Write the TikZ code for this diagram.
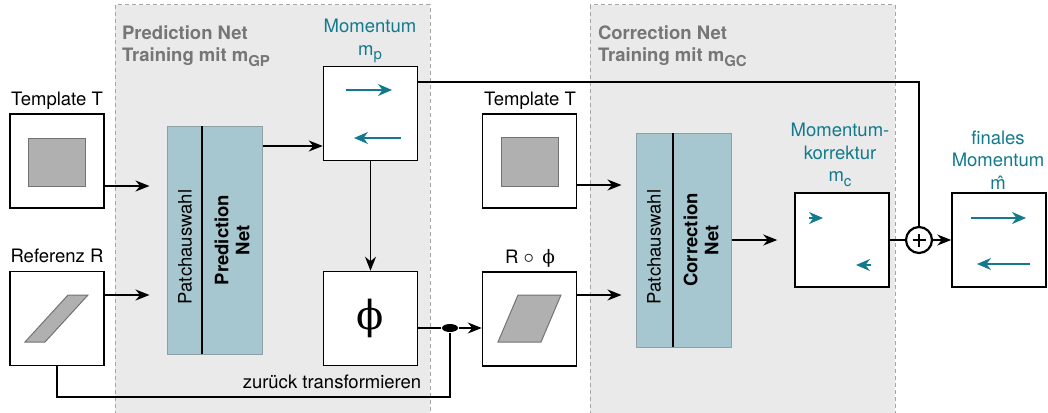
\documentclass[tikz,border=0pt]{standalone}
\usepackage{fontspec}
\setmainfont{TeX Gyre Heros}
\newfontfamily\phifont{DejaVu Serif}
\usetikzlibrary{arrows.meta,shapes.geometric}

\definecolor{petrol}{RGB}{18,122,140}
\definecolor{netblue}{RGB}{166,199,207}
\definecolor{netedge}{RGB}{140,160,166}
\definecolor{areagray}{RGB}{234,234,234}
\definecolor{areaedge}{RGB}{165,165,165}
\definecolor{titlegray}{RGB}{118,118,118}
\definecolor{patchgray}{RGB}{176,176,176}

% tiefgestellter Index wie m_GP
\newcommand{\idx}[1]{\raisebox{-0.45ex}{\fontsize{15}{15}\selectfont #1}}

\begin{document}
\begin{tikzpicture}[x=1pt,y=-1pt,
    font=\fontsize{18.5}{22.5}\selectfont,
    >={Stealth[length=14pt,width=11pt,inset=4.5pt]},
    line width=1.4pt,
    area/.style={draw=areaedge,fill=areagray,line width=1pt,dash pattern=on 4pt off 3pt},
    imgbox/.style={draw,fill=white,line width=1.5pt,minimum width=94pt,minimum height=94pt,inner sep=0pt},
    netbox/.style={draw=netedge,fill=netblue,line width=1pt,minimum width=95pt,inner sep=0pt},
    patch/.style={draw=black!55,fill=patchgray,line width=1pt},
    moarrow/.style={draw=petrol,line width=1.7pt,-{Stealth[length=14pt,width=12pt,inset=4.5pt]}},
    areatitle/.style={text=titlegray,font=\fontsize{18.5}{22.5}\selectfont\bfseries,align=left,anchor=west},
    molabel/.style={text=petrol,align=center},
    split/.style={ellipse,fill,minimum width=16pt,minimum height=8pt,inner sep=0pt}]
\useasboundingbox (0,0) rectangle (1048,412);

% Trainingsbereiche
\draw[area] (115,5) rectangle (430,418);
\draw[area] (590,5) rectangle (895,418);
\node[areatitle] at (118,46) {Prediction Net\\Training mit m\idx{GP}};
\node[areatitle] at (594,46) {Correction Net\\Training mit m\idx{GC}};

% Eingaben
\node[imgbox] (tmplT) at (57,161) {};
\node[imgbox] (refR) at (57,318.5) {};
\node at (57,101) {Template T};
\node at (57,256) {Referenz R};
\draw[patch] (28,138) rectangle (85,186);
\draw[patch] (25,342)--(45,342)--(88,295)--(68,295)--cycle;

% Prediction Net
\node[netbox,minimum height=228pt] (prednet) at (214.5,240) {};
\draw (202,126)--(202,354);
\node[rotate=90] at (185,247) {Patchauswahl};
\node[rotate=90,align=center,font=\fontsize{18.5}{21}\selectfont\bfseries] at (232,240) {Prediction\\Net};

% Momentum m_p
\node[imgbox] (mp) at (370.5,113.5) {};
\node[molabel] at (370,41) {Momentum\\m\idx{p}};
\draw[moarrow] (346,90)--(392,90);
\draw[moarrow] (401,138)--(354,138);

% Transformation phi
\node[imgbox] (phi) at (370.5,318.5) {\phifont\fontsize{40}{40}\selectfont ϕ};
\node at (332,382) {zurück transformieren};
\node[split] (dot) at (450,328) {};

% korrigierte Eingaben
\node[imgbox] (tmplT2) at (529.5,161) {};
\node[imgbox] (rphi) at (529.5,319) {};
\node at (530,101) {Template T};
\node at (530,258) {R \fontsize{22}{22}\selectfont$\circ$\fontsize{18.5}{22.5}\selectfont\ \,{\phifont ϕ}};
\draw[patch] (501,137) rectangle (558,186);
\draw[patch] (498,342)--(541,342)--(561,295)--(518,295)--cycle;

% Correction Net
\node[netbox,minimum height=214pt] (corrnet) at (683.5,240) {};
\draw (673,133)--(673,347);
\node[rotate=90] at (654,247) {Patchauswahl};
\node[rotate=90,align=center,font=\fontsize{18.5}{21}\selectfont\bfseries] at (701,240) {Correction\\Net};

% Momentumkorrektur m_c
\node[imgbox] (mc) at (842,240) {};
\node[molabel] at (840,155) {Momentum-\\korrektur\\m\idx{c}};
\draw[moarrow] (809,218)--(823,218);
\draw[moarrow] (871,265)--(856,265);

% Summe und finales Momentum
\node[draw,circle,fill=white,line width=2.2pt,minimum size=26pt,inner sep=0pt] (plus) at (919,240) {};
\draw[line width=2.2pt] ([xshift=-6.5pt]plus.center)--([xshift=6.5pt]plus.center);
\draw[line width=2.2pt] ([yshift=-6.5pt]plus.center)--([yshift=6.5pt]plus.center);
\node[imgbox] (mhat) at (999,240) {};
\node[molabel] at (998,160) {finales\\Momentum\\\^{m}};
\draw[moarrow] (971,218)--(1026,218);
\draw[moarrow] (1030,264)--(977,264);

% Verbindungen
\draw[->,shorten >=17pt] (tmplT.east |- 0,186) -- (prednet.west |- 0,186);
\draw[->,shorten >=17pt] (refR.east |- 0,295) -- (prednet.west |- 0,295);
\draw[->] (prednet.east |- 0,146) -- (mp.west |- 0,146);
\draw[->] (mp.south) -- (phi.north);
\draw (phi.east |- dot) -- (dot);
\draw[->] (dot) -- (rphi.west |- dot);
\draw (refR.south) |- (450,397) -- (dot);
\draw[->,shorten >=14pt] (tmplT2.east |- 0,185) -- (corrnet.west |- 0,185);
\draw[->,shorten >=14pt] (rphi.east |- 0,295) -- (corrnet.west |- 0,295);
\draw[->,shorten >=17pt] (corrnet.east) -- (mc.west);
\draw (mp.east |- 0,82) -| (plus.north);
\draw (mc.east) -- (plus.west);
\draw[->] (plus.east) -- (mhat.west);
\end{tikzpicture}
\end{document}
